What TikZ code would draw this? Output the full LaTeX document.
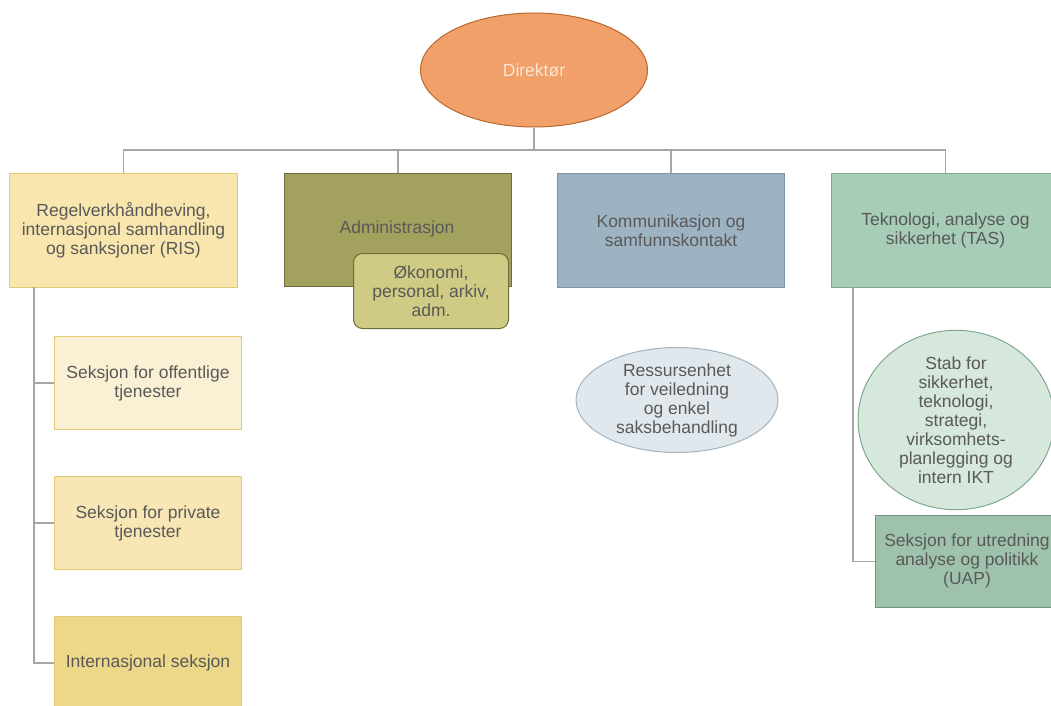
\documentclass[tikz,border=0pt]{standalone}
\usepackage{fontspec}
\setmainfont{Liberation Sans}
\usetikzlibrary{shapes.geometric}
\definecolor{txt}{HTML}{595959}
\definecolor{conn}{HTML}{A6A6A6}
\definecolor{dirfill}{HTML}{F0A068}
\definecolor{dirline}{HTML}{B8692F}
\definecolor{dirtxt}{HTML}{FAE6D2}
\definecolor{risfill}{HTML}{F8E6AE}
\definecolor{risline}{HTML}{E4C873}
\definecolor{sfill}{HTML}{FAF0D4}
\definecolor{pfill}{HTML}{F8E7B4}
\definecolor{ifill}{HTML}{EDD889}
\definecolor{admfill}{HTML}{A3A15E}
\definecolor{admline}{HTML}{6E6C3C}
\definecolor{okofill}{HTML}{CFCB84}
\definecolor{komfill}{HTML}{9DB3C2}
\definecolor{komline}{HTML}{7F95A4}
\definecolor{resfill}{HTML}{E1E8ED}
\definecolor{resline}{HTML}{A4B3BD}
\definecolor{tasfill}{HTML}{A7CCB7}
\definecolor{tasline}{HTML}{7FA891}
\definecolor{stabfill}{HTML}{D6E7DC}
\definecolor{uapfill}{HTML}{9FC2AD}
\definecolor{uapline}{HTML}{6F957F}
\tikzset{
  lbl/.style={text=txt, font=\fontsize{17.5}{19}\selectfont, align=center},
  unit/.style={draw, line width=1pt, anchor=north west, align=center, text=txt,
    font=\fontsize{17.5}{19}\selectfont, inner sep=0pt},
  oval/.style={ellipse, draw, line width=1pt, align=center, text=txt,
    font=\fontsize{17.5}{19}\selectfont, inner sep=0pt},
  wire/.style={draw=conn, line width=1.3pt}
}
\begin{document}
\begin{tikzpicture}[x=1pt,y=-1pt]
\useasboundingbox (0,0) rectangle (1051,705);
% director
\node[oval, fill=dirfill, draw=dirline, text=dirtxt, minimum width=227pt, minimum height=114pt] (dir) at (534,70) {Direktør};
% top level
\node[unit, fill=risfill, draw=risline, minimum width=228pt, minimum height=114pt] (ris) at (9,173) {Regelverkhåndheving,\\internasjonal samhandling\\og sanksjoner (RIS)};
\node[unit, fill=admfill, draw=admline, minimum width=227pt, minimum height=113pt] (adm) at (284,173) {};
\node[lbl] (admtxt) at (397,229) {Administrasjon};
\node[unit, fill=komfill, draw=komline, minimum width=227pt, minimum height=114pt] (kom) at (557,173) {Kommunikasjon og\\samfunnskontakt};
\node[unit, fill=tasfill, draw=tasline, minimum width=228pt, minimum height=114pt] (tas) at (831,173) {Teknologi, analyse og\\sikkerhet (TAS)};
% sub units
\node[unit, fill=okofill, draw=admline, rounded corners=9pt, minimum width=155pt, minimum height=75pt] (oko) at (353,253) {Økonomi,\\personal, arkiv,\\adm.};
\node[unit, fill=sfill, draw=risline, minimum width=187pt, minimum height=93pt] (s1) at (54,336) {Seksjon for offentlige\\tjenester};
\node[unit, fill=pfill, draw=risline, minimum width=187pt, minimum height=93pt] (s2) at (54,476) {Seksjon for private\\tjenester};
\node[unit, fill=ifill, draw=risline, minimum width=187pt, minimum height=93pt] (s3) at (54,616) {Internasjonal seksjon};
\node[oval, fill=resfill, draw=resline, minimum width=202pt, minimum height=105pt] (res) at (677,400) {Ressursenhet\\for veiledning\\og enkel\\saksbehandling};
\node[oval, fill=stabfill, draw=tasline, minimum width=196pt, minimum height=160pt] (stab) at (956,420) {Stab for\\sikkerhet,\\teknologi,\\strategi,\\virksomhets-\\planlegging og\\intern IKT};
\node[unit, fill=uapfill, draw=uapline, minimum width=184pt, minimum height=92pt] (uap) at (875,515) {};
\node[lbl] (uaptxt) at (967,561) {Seksjon for utredning\\analyse og politikk\\(UAP)};
% connectors
\coordinate (bus) at (534,150);
\draw[wire] (dir.south) -- (bus);
\draw[wire] (ris.north) |- (bus) -| (tas.north);
\draw[wire] (adm.north) -- (adm.north |- bus);
\draw[wire] (kom.north) -- (kom.north |- bus);
\coordinate (risdrop) at (34,287);
\draw[wire] (risdrop) |- (s3.west);
\draw[wire] (s1.west) -- (s1.west -| risdrop);
\draw[wire] (s2.west) -- (s2.west -| risdrop);
\coordinate (tasdrop) at (853,287);
\draw[wire] (tasdrop) |- (uap.west);
\end{tikzpicture}
\end{document}
